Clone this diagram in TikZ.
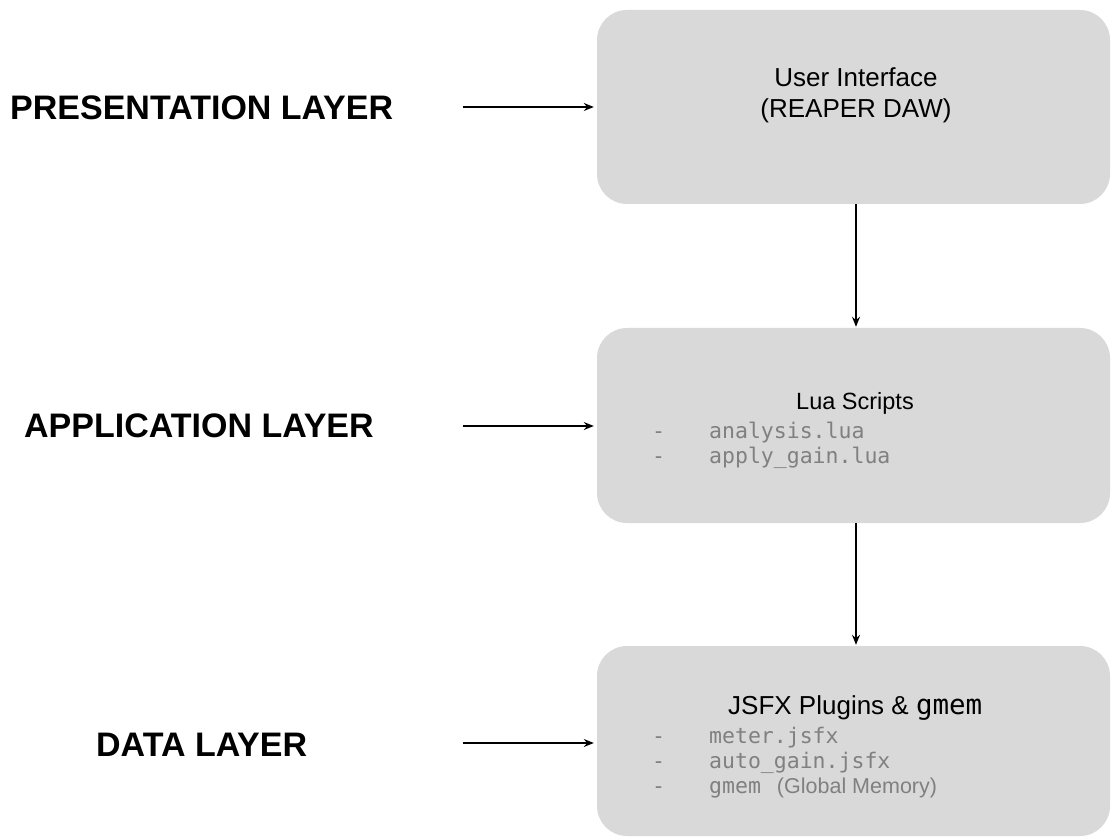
\documentclass[tikz,border=0pt]{standalone}
\usepackage{fontspec}
\setmainfont{Liberation Sans}
\setmonofont{DejaVu Sans Mono}
\usetikzlibrary{positioning,arrows.meta}
\definecolor{boxgray}{HTML}{D9D9D9}
\definecolor{itemgray}{HTML}{808080}
\tikzset{
  layerbox/.style={fill=boxgray, rounded corners=30pt, inner sep=0pt},
  layerlabel/.style={anchor=west, inner sep=0pt, font=\fontsize{34}{40}\selectfont\bfseries},
  boxtitle/.style={anchor=base, inner sep=0pt, font=\fontsize{26}{30}\selectfont},
  listitem/.style={anchor=base west, inner sep=0pt, text=itemgray, font=\fontsize{21.5}{25}\selectfont\ttfamily},
  feed/.style={-{Stealth[length=10pt,width=8pt]}, line width=1.3pt, shorten >=3pt}
}
\newcommand{\dashitem}[1]{\makebox[57pt][l]{-}#1}
\begin{document}
\begin{tikzpicture}[x=1pt,y=-1pt]
\useasboundingbox (0,0) rectangle (1112,837);

% boxes
\node[layerbox, minimum width=513pt, minimum height=194pt] (ui)   at (853.5,107) {};
\node[layerbox, minimum width=513pt, minimum height=195pt] (lua)  at (853.5,425.5) {};
\node[layerbox, minimum width=513pt, minimum height=190pt] (jsfx) at (853.5,741) {};

% layer names
\node[layerlabel] (presentation) at (10,108) {PRESENTATION LAYER};
\node[layerlabel] (application)  at (24,426) {APPLICATION LAYER};
\node[layerlabel] (data)         at (96,745) {DATA LAYER};

% box contents
\node[boxtitle] (uiname) at (856,87) {User Interface};
\node[boxtitle] (uidaw)  at (856,118) {(REAPER DAW)};

\node[boxtitle, font=\fontsize{23.5}{28}\selectfont] (luaname) at (855,409) {Lua Scripts};
\node[listitem] (analysis) at (652,438) {\dashitem{analysis.lua}};
\node[listitem] (applygain) at (652,463) {\dashitem{apply\_gain.lua}};

\node[boxtitle, anchor=base west] (jsfxname) at (728,714) {JSFX Plugins \& {\fontsize{27.5}{30}\selectfont\ttfamily gmem}};
\node[listitem] (meter)    at (652,743) {\dashitem{meter.jsfx}};
\node[listitem] (autogain) at (652,768) {\dashitem{auto\_gain.jsfx}};
\node[listitem] (gmem)     at (652,793) {\dashitem{gmem}\hspace{16pt}{\rmfamily (Global Memory)}};

% arrows
\coordinate (presin) at (463,107);
\coordinate (appin)  at (463,426);
\coordinate (datain) at (463,743);
\draw[feed] (presin) -- (presin -| ui.west);
\draw[feed] (appin) -- (appin -| lua.west);
\draw[feed] (datain) -- (datain -| jsfx.west);
\draw[feed, shorten >=1pt] ([xshift=2.5pt]ui.south) -- ([xshift=2.5pt]lua.north);
\draw[feed, shorten >=1pt] ([xshift=2.5pt]lua.south) -- ([xshift=2.5pt]jsfx.north);
\end{tikzpicture}
\end{document}
